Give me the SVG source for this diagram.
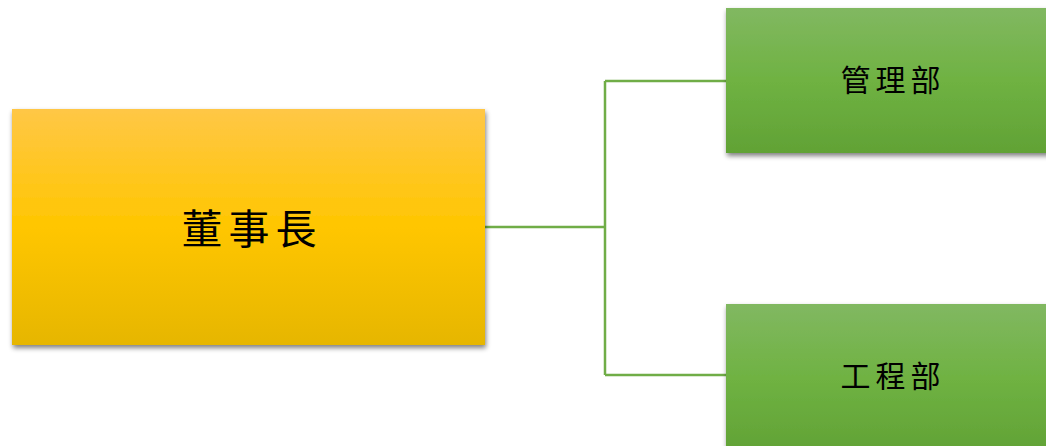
<svg xmlns="http://www.w3.org/2000/svg" width="1046" height="446" viewBox="0 0 1046 446">
<defs>
<linearGradient id="gy" x1="0" y1="0" x2="0" y2="1">
<stop offset="0" stop-color="#FFC746"/>
<stop offset="0.5" stop-color="#FFC600"/>
<stop offset="1" stop-color="#E6B600"/>
</linearGradient>
<linearGradient id="gg" x1="0" y1="0" x2="0" y2="1">
<stop offset="0" stop-color="#81B861"/>
<stop offset="0.5" stop-color="#6FB242"/>
<stop offset="1" stop-color="#61A235"/>
</linearGradient>
<filter id="sh" x="-5%" y="-5%" width="112%" height="115%">
<feGaussianBlur in="SourceAlpha" stdDeviation="2.5"/>
<feOffset dx="1" dy="3" result="b"/>
<feComponentTransfer><feFuncA type="linear" slope="0.5"/></feComponentTransfer>
<feMerge><feMergeNode/><feMergeNode in="SourceGraphic"/></feMerge>
</filter>
</defs>
<style>
.lbl{font-family:"Noto Sans CJK TC","Noto Sans CJK SC",sans-serif;fill:#000;text-anchor:middle;dominant-baseline:central}
.conn{fill:none;stroke:#70AD47;stroke-width:2.5}
</style>
<rect width="1046" height="446" fill="#fff"/>
<g id="connectors">
<path class="conn" d="M485 227 H605 M605 81 V375 M605 81 H726 M605 375 H726"/>
</g>
<g id="chairman">
<rect x="12" y="109" width="473" height="236" fill="url(#gy)" filter="url(#sh)"/>
<text class="lbl" x="252" y="226" font-size="41" letter-spacing="6">董事長</text>
</g>
<g id="admin">
<rect x="726" y="8" width="330" height="145" fill="url(#gg)" filter="url(#sh)"/>
<text class="lbl" x="893" y="78" font-size="30" letter-spacing="5">管理部</text>
</g>
<g id="engineering">
<rect x="726" y="304" width="330" height="150" fill="url(#gg)" filter="url(#sh)"/>
<text class="lbl" x="893" y="374" font-size="30" letter-spacing="5">工程部</text>
</g>
</svg>
